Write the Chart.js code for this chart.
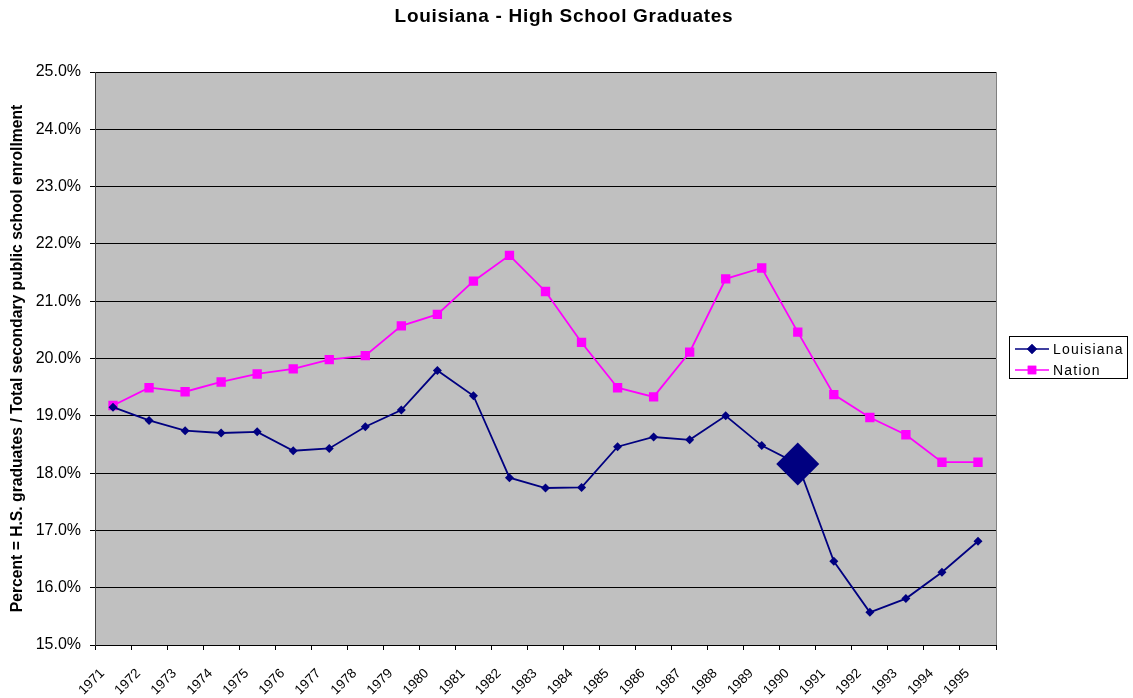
<!DOCTYPE html>
<html>
<head>
<meta charset="utf-8">
<script src="https://cdn.jsdelivr.net/npm/chart.js@4.4.0/dist/chart.umd.min.js"></script>
<style>
  html, body { margin: 0; padding: 0; background: #fff; }
  #wrap { width: 1133px; height: 698px; position: relative; }
</style>
</head>
<body>
<div id="wrap"><canvas id="chart"></canvas></div>
<script>
'use strict';

// ── Data ─────────────────────────────────────────────
var years = ['1971','1972','1973','1974','1975','1976','1977','1978','1979','1980',
             '1981','1982','1983','1984','1985','1986','1987','1988','1989','1990',
             '1991','1992','1993','1994','1995'];

var louisiana = [19.15, 18.92, 18.74, 18.70, 18.72, 18.39, 18.43, 18.81, 19.10, 19.79,
                 19.35, 17.92, 17.74, 17.75, 18.46, 18.63, 18.58, 19.00, 18.48, 18.16,
                 16.46, 15.57, 15.81, 16.27, 16.81];

var nation    = [19.18, 19.49, 19.42, 19.59, 19.73, 19.82, 19.98, 20.05, 20.57, 20.77,
                 21.35, 21.80, 21.17, 20.28, 19.49, 19.33, 20.11, 21.39, 21.58, 20.46,
                 19.37, 18.97, 18.67, 18.19, 18.19];

var yTicks = [15, 16, 17, 18, 19, 20, 21, 22, 23, 24, 25];
var highlightYear = '1990';
var chartTitle = 'Louisiana - High School Graduates';
var yTitle = 'Percent = H.S. graduates / Total secondary public school enrollment';

var FONT = "Arial, 'Liberation Sans', sans-serif";

// ── Plugins ──────────────────────────────────────────
var plotBg = {
  id: 'plotBg',
  beforeDraw: function(chart) {
    var a = chart.chartArea, ctx = chart.ctx;
    ctx.save();
    ctx.fillStyle = '#C0C0C0';
    ctx.fillRect(a.left, a.top, a.right - a.left, a.bottom - a.top);
    ctx.restore();
  },
  afterDatasetsDraw: function(chart) {
    var a = chart.chartArea, ctx = chart.ctx;
    ctx.save();
    ctx.strokeStyle = '#808080';
    ctx.lineWidth = 1;
    ctx.beginPath();
    ctx.moveTo(Math.round(a.right) + 0.5, a.top);
    ctx.lineTo(Math.round(a.right) + 0.5, a.bottom);
    ctx.stroke();
    ctx.restore();
  }
};

// Title centred over the whole page, like the original
var pageTitle = {
  id: 'pageTitle',
  afterDraw: function(chart) {
    var ctx = chart.ctx;
    ctx.save();
    ctx.fillStyle = '#000';
    ctx.font = 'bold 19px ' + FONT;
    ctx.letterSpacing = '0.7px';
    ctx.textAlign = 'center';
    ctx.textBaseline = 'middle';
    ctx.fillText(chartTitle, 564, 17);
    ctx.restore();
  }
};

// Excel-style legend box: line with marker through the middle
var boxLegend = {
  id: 'boxLegend',
  afterDraw: function(chart) {
    var ctx = chart.ctx;
    var x = 1009, y = 336, w = 118, h = 42;
    ctx.save();
    ctx.fillStyle = '#fff';
    ctx.fillRect(x, y, w, h);
    ctx.strokeStyle = '#000';
    ctx.lineWidth = 1;
    ctx.strokeRect(x + 0.5, y + 0.5, w, h);
    chart.data.datasets.forEach(function(ds, i) {
      var ly = y + 13 + i * 21;
      ctx.strokeStyle = ds.borderColor;
      ctx.lineWidth = 1.5;
      ctx.beginPath();
      ctx.moveTo(x + 6, ly);
      ctx.lineTo(x + 40, ly);
      ctx.stroke();
      ctx.fillStyle = ds.pointBackgroundColor;
      ctx.beginPath();
      Chart.helpers.drawPoint(ctx, { pointStyle: ds.pointStyle, radius: ds.legendRadius, rotation: 0, borderWidth: 0 }, x + 23, ly);
      ctx.fill();
      ctx.fillStyle = '#000';
      ctx.font = '14px ' + FONT;
      ctx.letterSpacing = '1.2px';
      ctx.textBaseline = 'middle';
      ctx.textAlign = 'left';
      ctx.fillText(ds.label, x + 44, ly + 1);
      ctx.letterSpacing = '0px';
    });
    ctx.restore();
  }
};

// ── Chart ────────────────────────────────────────────
new Chart(document.getElementById('chart'), {
  type: 'line',
  data: {
    labels: years,
    datasets: [
      {
        label: 'Louisiana',
        data: louisiana,
        borderColor: '#000080',
        backgroundColor: '#000080',
        pointBackgroundColor: '#000080',
        pointBorderColor: '#000080',
        pointStyle: 'rectRot',
        pointRadius: years.map(function(y){ return y === highlightYear ? 21.5 : 4.5; }),
        pointBorderWidth: 0,
        legendRadius: 5,
        borderWidth: 1.8,
        tension: 0,
        fill: false
      },
      {
        label: 'Nation',
        data: nation,
        borderColor: '#FF00FF',
        backgroundColor: '#FF00FF',
        pointBackgroundColor: '#FF00FF',
        pointBorderColor: '#FF00FF',
        pointStyle: 'rect',
        pointRadius: 6.6,
        pointBorderWidth: 0,
        legendRadius: 6,
        borderWidth: 1.8,
        tension: 0,
        fill: false
      }
    ]
  },
  options: {
    responsive: true,
    maintainAspectRatio: false,
    animation: false,
    layout: { padding: { left: 0, right: 137, top: 72, bottom: 0 } },
    plugins: {
      legend: { display: false },
      tooltip: { enabled: false },
      title: { display: false }
    },
    scales: {
      x: {
        type: 'category',
        offset: true,
        afterFit: function(s) { s.height = 53; },
        grid: { display: true, offset: true, drawOnChartArea: false, color: '#000', tickLength: 5, tickColor: '#000' },
        border: { display: true, color: '#000', width: 1 },
        ticks: {
          color: '#000',
          autoSkip: false,
          maxRotation: 45,
          minRotation: 45,
          padding: 5,
          font: { family: FONT, size: 13.5 },
          // trailing spaces pull the rotated label down-left of its tick, as Excel does
          callback: function(v, i) { return years[i] + '    '; }
        }
      },
      y: {
        min: 15,
        max: 25,
        afterFit: function(s) { s.width = 95; },
        afterBuildTicks: function(s) { s.ticks = yTicks.map(function(v){ return { value: v }; }); },
        grid: { color: '#000', lineWidth: 1, tickLength: 5, tickColor: '#000' },
        border: { display: true, color: '#404040', width: 1 },
        ticks: {
          color: '#000',
          padding: 9,
          font: { family: FONT, size: 16 },
          callback: function(v) { return v.toFixed(1) + '%'; }
        },
        title: {
          display: true,
          text: yTitle,
          color: '#000',
          font: { family: FONT, size: 15.7, weight: 'bold' },
          padding: { top: 8, bottom: 0 }
        }
      }
    }
  },
  plugins: [plotBg, pageTitle, boxLegend]
});
</script>
</body>
</html>
